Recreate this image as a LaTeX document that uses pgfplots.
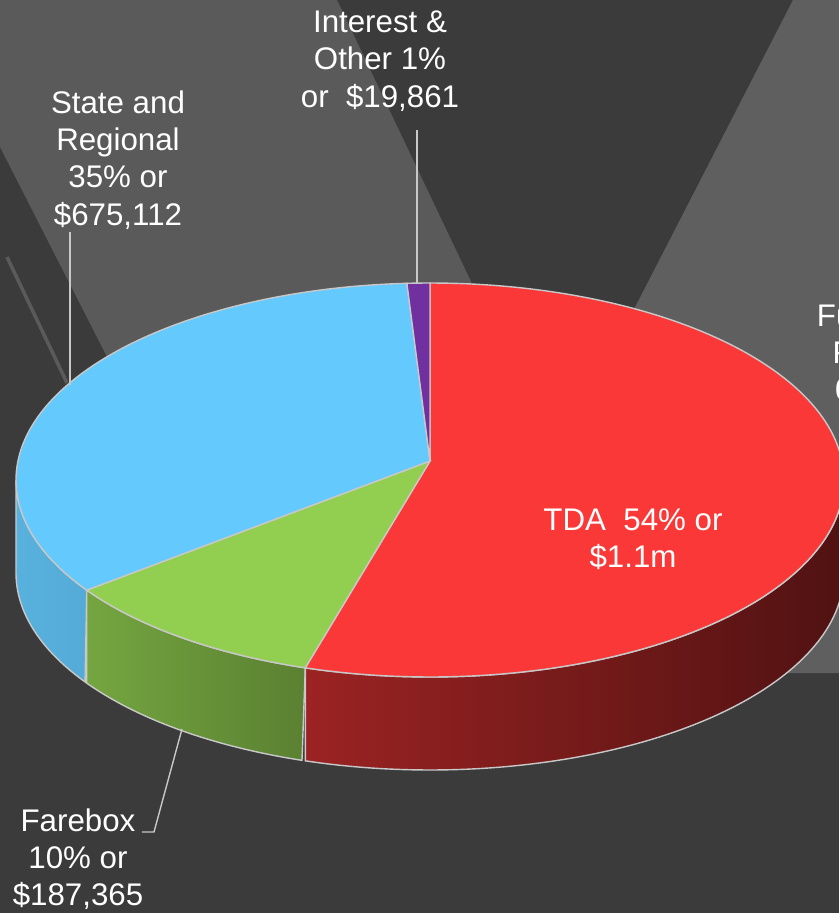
\documentclass[border=0pt]{standalone}
\usepackage{pgfplots}
\pgfplotsset{compat=1.18}
\usepackage{fontspec}
\setmainfont{Liberation Sans}
\definecolor{bgdark}{HTML}{3B3B3B}
\definecolor{bglight}{HTML}{5A5A5A}
\definecolor{bglight2}{HTML}{5F5F5F}
\definecolor{cTDA}{HTML}{FB3838}
\definecolor{cFare}{HTML}{92CF50}
\definecolor{cState}{HTML}{64C9FC}
\definecolor{cInt}{HTML}{7030A0}
\definecolor{edge}{HTML}{C8C8C8}
\tikzset{lbl/.style={font=\fontsize{8.9}{10.6}\selectfont,text=white,align=center,inner sep=0pt}}
\begin{document}
\begin{tikzpicture}
% shares in percent, clockwise from 12 o'clock
\def\vTDA{54}
\def\vFare{10}
\def\vState{35}
\def\vInt{1}
\pgfmathsetmacro{\aA}{90}
\pgfmathsetmacro{\aB}{\aA-3.6*\vTDA}
\pgfmathsetmacro{\aC}{\aB-3.6*\vFare}
\pgfmathsetmacro{\aD}{\aC-3.6*\vState}
\pgfmathsetmacro{\aE}{\aD-3.6*\vInt}
% perspective: front half of the tilted disc is widened, back half narrowed
\pgfmathsetmacro{\sB}{\aB-6.5*sin(2*\aB)*(sin(\aB)<0)}
\pgfmathsetmacro{\sC}{\aC-5.7*sin(2*\aC)*(sin(\aC)<0)}
\pgfmathsetmacro{\sD}{\aD-0.4}
\pgfmathsetmacro{\sE}{\aE}
\pgfmathsetmacro{\sBp}{\sB+360}
\pgfmathsetmacro{\sCp}{\sC+360}
\def\cx{430}\def\cy{433}\def\ra{414}\def\rb{197}\def\dd{93}
\def\px{430}\def\py{452}
\begin{axis}[width=8.39cm,height=9.13cm,scale only axis,
  xmin=0,xmax=839,ymin=0,ymax=913,hide axis,clip mode=global]
% background
\fill[bgdark] (axis cs:0,0) rectangle (axis cs:839,913);
\fill[bglight] (axis cs:0,913) -- (axis cs:337,913) -- (axis cs:556,453) -- (axis cs:282,213) -- (axis cs:0,766) -- cycle;
\fill[bglight2] (axis cs:793,913) -- (axis cs:839,913) -- (axis cs:839,240) -- (axis cs:447,240) -- cycle;
\draw[bglight,line width=1pt] (axis cs:7,656) -- (axis cs:67,530);
% side walls
\addplot[draw=edge,line width=0.4pt,left color=cState!88!black,right color=cState!85!black,domain=0:2,samples=161,variable=\s]
  ({\cx+\ra*cos(180+(\sCp-180)*(1-abs(1-\s)))},{\cy+\rb*sin(180+(\sCp-180)*(1-abs(1-\s)))-\dd*(\s>1)}) -- cycle;
\addplot[draw=edge,line width=0.4pt,left color=cFare!80!black,right color=cFare!62!black,domain=0:2,samples=161,variable=\s]
  ({\cx+\ra*cos(\sCp+(\sBp-\sCp)*(1-abs(1-\s)))},{\cy+\rb*sin(\sCp+(\sBp-\sCp)*(1-abs(1-\s)))-\dd*(\s>1)}) -- cycle;
\addplot[draw=edge,line width=0.4pt,left color=cTDA!62!black,right color=cTDA!32!black,domain=0:2,samples=201,variable=\s]
  ({\cx+\ra*cos(\sBp+(360-\sBp)*(1-abs(1-\s)))},{\cy+\rb*sin(\sBp+(360-\sBp)*(1-abs(1-\s)))-\dd*(\s>1)}) -- cycle;
% top faces
\addplot[fill=cTDA,draw=edge,line width=0.4pt,domain=\sB:\aA,samples=150,variable=\t]
  ({\cx+\ra*cos(\t)},{\cy+\rb*sin(\t)}) -- (axis cs:\px,\py) -- cycle;
\addplot[fill=cFare,draw=edge,line width=0.4pt,domain=\sC:\sB,samples=40,variable=\t]
  ({\cx+\ra*cos(\t)},{\cy+\rb*sin(\t)}) -- (axis cs:\px,\py) -- cycle;
\addplot[fill=cState,draw=edge,line width=0.4pt,domain=\sD:\sC,samples=120,variable=\t]
  ({\cx+\ra*cos(\t)},{\cy+\rb*sin(\t)}) -- (axis cs:\px,\py) -- cycle;
\addplot[fill=cInt,draw=edge,line width=0.4pt,domain=\sE:\sD,samples=5,variable=\t]
  ({\cx+\ra*cos(\t)},{\cy+\rb*sin(\t)}) -- (axis cs:\px,\py) -- cycle;
% leader lines
\draw[edge,line width=0.4pt] (axis cs:417,783) -- (axis cs:417,630);
\draw[edge,line width=0.4pt] (axis cs:70,681) -- (axis cs:70,528);
\draw[edge,line width=0.4pt] (axis cs:182,184) -- (axis cs:154,81) -- (axis cs:142,81);
% labels
\node[lbl] at (axis cs:380,852) {Interest \&\\Other 1\%\\or\ \ \$19,861};
\node[lbl] at (axis cs:118,753) {State and\\Regional\\35\% or\\\$675,112};
\node[lbl] at (axis cs:633,374) {TDA\ \ 54\% or\\\$1.1m};
\node[lbl] at (axis cs:78,54) {Farebox\\10\% or\\\$187,365};
\node[lbl] at (axis cs:876,541) {Fuel Tax\\Funds\\0\% or\\\$0};
\end{axis}
\pgfresetboundingbox
\path[use as bounding box] (current axis.south west) rectangle (current axis.north east);
\end{tikzpicture}
\end{document}
